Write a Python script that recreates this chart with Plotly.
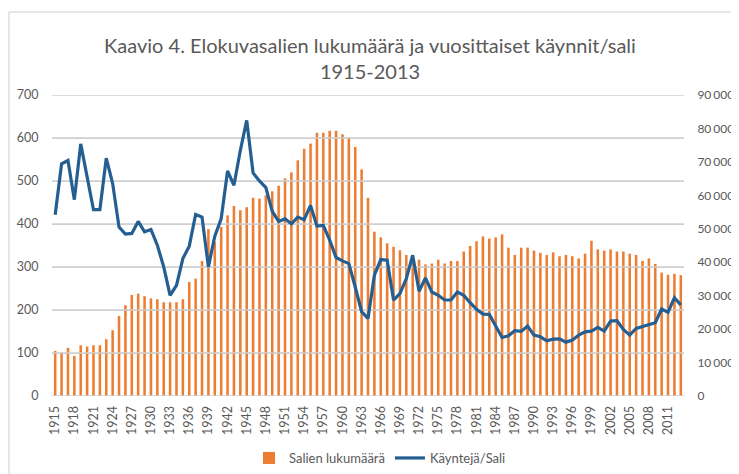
import plotly.graph_objects as go

years = list(range(1915, 2014))

salit = [105, 101, 112, 93, 118, 115, 118, 118, 132, 153,
         186, 211, 235, 238, 232, 227, 225, 218, 218, 218,
         225, 265, 273, 314, 388, 358, 393, 420, 442, 432,
         439, 461, 459, 467, 476, 489, 506, 520, 548, 575,
         587, 612, 612, 617, 617, 609, 601, 579, 527, 461,
         382, 369, 355, 347, 339, 328, 327, 317, 306, 308,
         317, 308, 314, 314, 336, 349, 360, 371, 366, 369,
         376, 345, 328, 345, 345, 338, 333, 328, 334, 325,
         328, 325, 320, 331, 361, 341, 338, 341, 336, 336,
         331, 328, 314, 320, 307, 287, 282, 284, 281]

kaynnit = [54200, 69400, 70400, 58700, 75400, 65500, 55700, 55700, 71100, 63500,
           50500, 48400, 48600, 52200, 49100, 49800, 45100, 38600, 30100, 33100,
           41100, 44800, 54300, 53500, 38600, 47800, 53000, 67300, 63000, 73400,
           82400, 66700, 64300, 62300, 55200, 52200, 53000, 51500, 53500, 52700,
           57000, 50800, 51000, 46600, 41400, 40400, 39600, 32600, 25200, 23200,
           36100, 40800, 40600, 28700, 30600, 35100, 42100, 31300, 35300, 31100,
           30100, 28700, 28700, 31100, 30100, 27900, 25900, 24500, 24400, 20900,
           17500, 18000, 19500, 19300, 20900, 18200, 17700, 16500, 17000, 17100,
           16100, 16700, 18200, 19200, 19400, 20500, 19400, 22400, 22500, 19900,
           18200, 20200, 20700, 21200, 21900, 26000, 25000, 29400, 27200]

left_ticks = [0, 100, 200, 300, 400, 500, 600, 700]
right_ticks = [0, 10000, 20000, 30000, 40000, 50000, 60000, 70000, 80000, 90000]
right_labels = ["0", "10\u2006000", "20\u2006000", "30\u2006000", "40\u2006000",
                "50\u2006000", "60\u2006000", "70\u2006000", "80\u2006000", "90\u2006000"]
x_ticks = list(range(1915, 2012, 3))

FONT = "Lato"
GREY = "#595959"
GRID = "#CFCFCF"
CLEAR = "rgba(0,0,0,0)"

x_lo, x_hi = min(years) - 0.5, max(years) + 0.5

fig = go.Figure()
# one line trace per horizontal gridline, at the left-axis tick values
for v in left_ticks:
    fig.add_trace(go.Scatter(x=[x_lo, x_hi], y=[v, v], mode="lines",
                             showlegend=False, hoverinfo="skip",
                             line=dict(color=GRID, width=1.3), yaxis="y"))
fig.add_trace(go.Bar(x=years, y=salit, name="Salien lukumäärä",
                     marker=dict(color="#ED7D31", line=dict(width=0)),
                     yaxis="y"))
fig.add_trace(go.Scatter(x=years, y=kaynnit, name="Käyntejä/Sali", mode="lines",
                         line=dict(color="#255E91", width=3.2), yaxis="y2"))

# the page body adds an 8 px offset, so the figure is a bit smaller
W, H = 731, 466
L, R, T, B = 44, 55, 87, 78
pw, ph = W - L - R, H - T - B

fig.update_layout(
    width=W, height=H,
    margin=dict(l=L, r=R, t=T, b=B, autoexpand=False),
    paper_bgcolor="white", plot_bgcolor="white",
    font=dict(family=FONT, color=GREY, size=12),
    title=dict(text="Kaavio 4. Elokuvasalien lukumäärä ja vuosittaiset käynnit/sali<br>1915-2013",
               x=(362 - L) / pw, xref="paper", xanchor="center",
               y=1 - 45 / H, yanchor="middle",
               font=dict(family=FONT, size=20, color=GREY)),
    bargap=0.6,
    showlegend=True,
    legend=dict(orientation="h", x=(372 - L) / pw, xanchor="center",
                y=(388 - 450) / ph, yanchor="middle",
                font=dict(family=FONT, size=13, color=GREY),
                itemwidth=30, traceorder="normal"),
    xaxis=dict(range=[x_lo, x_hi], tickmode="array", tickvals=x_ticks,
               ticktext=[str(v) for v in x_ticks], tickangle=-90,
               showgrid=False, showline=False,
               ticks="outside", ticklen=4, tickcolor=CLEAR,
               tickfont=dict(size=12.5, color=GREY), zeroline=False),
    yaxis=dict(range=[0, 700], tickmode="array", tickvals=left_ticks,
               showgrid=True, gridcolor=GRID, gridwidth=1,
               showline=False, zeroline=False,
               ticks="outside", ticklen=10, tickcolor=CLEAR,
               tickfont=dict(size=12.5, color=GREY)),
    yaxis2=dict(range=[0, 90000], tickmode="array", tickvals=right_ticks,
                ticktext=right_labels, overlaying="y", side="right",
                showgrid=False, showline=False, zeroline=False,
                ticks="outside", ticklen=10, tickcolor=CLEAR,
                tickfont=dict(size=12, color=GREY)),
    shapes=[dict(type="rect", xref="paper", yref="paper",
                 x0=(1 - L) / pw, x1=(740 - L) / pw,
                 y0=(H - 480 - B) / ph, y1=1 + (T - 4) / ph,
                 line=dict(color=GRID, width=1), fillcolor=CLEAR,
                 layer="above")],
)

fig.write_html("out.html")
